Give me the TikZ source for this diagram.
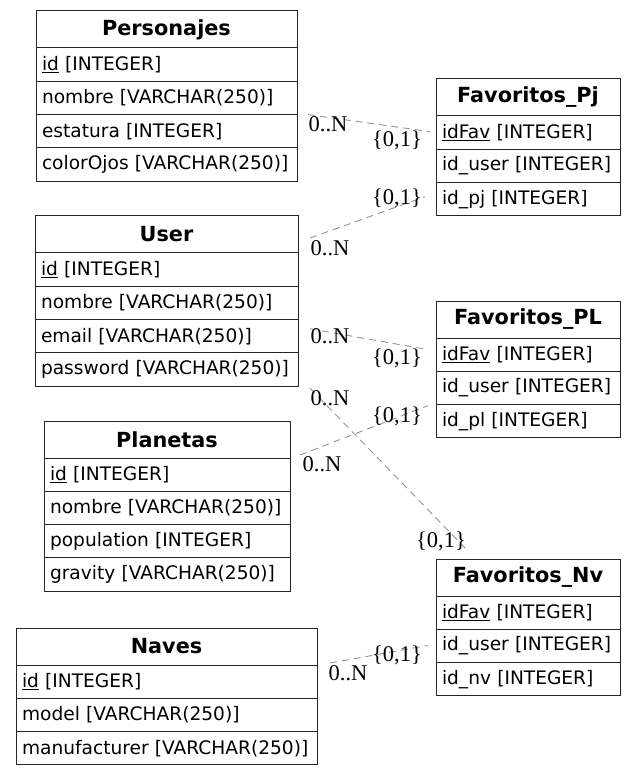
\documentclass[tikz,border=0pt]{standalone}
\usepackage{fontspec}
\setmainfont{DejaVu Sans}
\newfontfamily\cardfont{Liberation Serif}
\usetikzlibrary{positioning}
\tikzset{
  tblhead/.style={draw=black!85, line width=1pt, minimum width=#1, minimum height=37pt,
    inner sep=0pt, outer sep=0pt, font=\fontsize{20.8}{24}\selectfont\bfseries},
  tblrow/.style={draw=black!85, line width=1pt, text width=#1, minimum height=33.3pt,
    inner xsep=6pt, inner ysep=0pt, outer sep=0pt, align=left, font=\fontsize{18.6}{21}\selectfont},
  rel/.style={draw=gray!85, line width=0.9pt, dash pattern=on 7pt off 5pt},
  card/.style={font=\cardfont\fontsize{22.5}{25}\selectfont, inner sep=0pt},
}
% name, x, top, width, title, fields
\newcommand{\ertable}[6]{%
  \pgfmathsetmacro{\tw}{#4-12}
  \node[tblhead=#4pt] (#1) at (#2,#3+18.5) {#5};
  \foreach \f [count=\i] in {#6}
    \node[tblrow=\tw pt] (#1\i) at (#2,#3+20.35+33.3*\i) {\f};
}

\begin{document}
\begin{tikzpicture}[x=1pt,y=-1pt]
  \useasboundingbox (0,0) rectangle (636,775);
  \ertable{pers}{166.5}{11}{261}{Personajes}{\underline{id} [INTEGER], nombre [VARCHAR(250)], estatura [INTEGER], colorOjos [VARCHAR(250)]}
  \ertable{user}{166.5}{216}{263}{User}{\underline{id} [INTEGER], nombre [VARCHAR(250)], email [VARCHAR(250)], password [VARCHAR(250)]}
  \ertable{plan}{167}{421}{246}{Planetas}{\underline{id} [INTEGER], nombre [VARCHAR(250)], population [INTEGER], gravity [VARCHAR(250)]}
  \ertable{nave}{166.5}{628}{301}{Naves}{\underline{id} [INTEGER], model [VARCHAR(250)], manufacturer [VARCHAR(250)]}
  \ertable{fpj}{528}{79}{184}{Favoritos\_Pj}{\underline{idFav} [INTEGER], id\_user [INTEGER], id\_pj [INTEGER]}
  \ertable{fpl}{528}{301}{184}{Favoritos\_PL}{\underline{idFav} [INTEGER], id\_user [INTEGER], id\_pl [INTEGER]}
  \ertable{fnv}{528}{559}{184}{Favoritos\_Nv}{\underline{idFav} [INTEGER], id\_user [INTEGER], id\_nv [INTEGER]}

  % relations
  \draw[rel] ([shift={(11,0)}]pers3.north east) -- ([shift={(-6,-1)}]fpj1.west);
  \draw[rel] ([shift={(12,3.5)}]user.east) -- ([shift={(-11,-2.5)}]fpj3.west);
  \draw[rel] ([shift={(12,-7.5)}]user3.east) -- ([shift={(-8,-5)}]fpl1.west);
  \draw[rel] ([shift={(12,2)}]user4.south east) -- ([shift={(-60,-8)}]fnv.north);
  \draw[rel] ([shift={(10,15.5)}]plan.east) -- ([shift={(-8,1)}]fpl3.north west);
  \draw[rel] ([shift={(13,16.5)}]nave.east) -- ([shift={(-8,-0.5)}]fnv2.west);

  % cardinalities
  \node[card] (c1n) at (328,124) {0..N};
  \node[card] (c1o) at (397,140) {\{0,1\}};
  \node[card] (c2o) at (397,198) {\{0,1\}};
  \node[card] (c2n) at (330,248) {0..N};
  \node[card] (c3n) at (330,336) {0..N};
  \node[card] (c3o) at (397,358) {\{0,1\}};
  \node[card] (c4n) at (330,398) {0..N};
  \node[card] (c4o) at (441,541) {\{0,1\}};
  \node[card] (c5o) at (397,416) {\{0,1\}};
  \node[card] (c5n) at (322,464) {0..N};
  \node[card] (c6o) at (397,655) {\{0,1\}};
  \node[card] (c6n) at (348,673) {0..N};
\end{tikzpicture}
\end{document}
